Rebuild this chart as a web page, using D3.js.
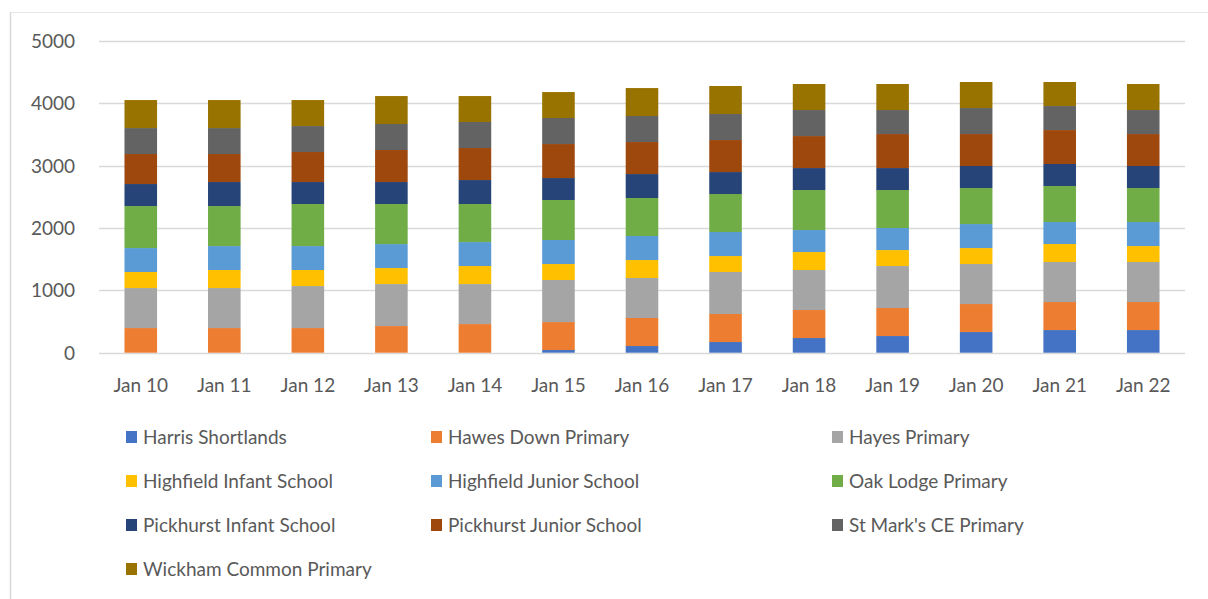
<!DOCTYPE html>
<html>
<head>
<meta charset="utf-8">
<script src="https://cdn.jsdelivr.net/npm/d3@7"></script>
<style>
  html, body { margin: 0; padding: 0; background: #fff; }
  svg { display: block; }
  text { font-family: Lato, "Open Sans", sans-serif; fill: #595959; }
</style>
</head>
<body>
<svg id="chart" width="1208" height="599"></svg>
<script>
const categories = ["Jan 10","Jan 11","Jan 12","Jan 13","Jan 14","Jan 15","Jan 16","Jan 17","Jan 18","Jan 19","Jan 20","Jan 21","Jan 22"];
const seriesNames = ["Harris Shortlands","Hawes Down Primary","Hayes Primary","Highfield Infant School","Highfield Junior School","Oak Lodge Primary","Pickhurst Infant School","Pickhurst Junior School","St Mark's CE Primary","Wickham Common Primary"];
const harrisShortlands   = [0, 0, 0, 0, 0, 43, 107, 171, 235, 267, 331, 363, 363];
const hawesDownPrimary   = [395, 395, 395, 427, 459, 448, 449, 449, 449, 449, 449, 449, 449];
const hayesPrimary       = [641, 641, 673, 673, 641, 674, 641, 673, 641, 673, 641, 641, 641];
const highfieldInfant    = [257, 289, 257, 257, 289, 256, 288, 256, 288, 256, 256, 289, 256];
const highfieldJunior    = [384, 384, 384, 384, 384, 385, 385, 385, 353, 353, 385, 352, 385];
const oakLodgePrimary    = [673, 641, 674, 642, 610, 641, 609, 609, 641, 609, 577, 577, 545];
const pickhurstInfant    = [353, 385, 352, 352, 384, 352, 384, 352, 352, 352, 353, 353, 353];
const pickhurstJunior    = [481, 449, 481, 513, 513, 545, 513, 513, 513, 545, 512, 544, 512];
const stMarksCE          = [416, 416, 416, 417, 417, 417, 417, 417, 417, 385, 417, 385, 385];
const wickhamCommon      = [449, 449, 417, 448, 416, 416, 448, 449, 417, 417, 417, 385, 417];
const yTicks = [0, 1000, 2000, 3000, 4000, 5000];
const colors = ["#4472c4","#ed7d31","#a5a5a5","#ffc000","#5b9bd5","#70ad47","#264478","#9e480e","#636363","#997300"];

const seriesValues = [harrisShortlands, hawesDownPrimary, hayesPrimary, highfieldInfant, highfieldJunior, oakLodgePrimary, pickhurstInfant, pickhurstJunior, stMarksCE, wickhamCommon];
const rows = categories.map((c, i) => {
  const r = { cat: c };
  seriesNames.forEach((s, j) => { r[s] = seriesValues[j][i]; });
  return r;
});

const FS = 19;
const svg = d3.select("#chart");

// outer chart border
svg.append("line").attr("x1", 10).attr("x2", 1208).attr("y1", 12.5).attr("y2", 12.5)
  .attr("stroke", "#e6e6e6").attr("stroke-width", 1);
svg.append("line").attr("x1", 10.5).attr("x2", 10.5).attr("y1", 12).attr("y2", 599)
  .attr("stroke", "#d9d9d9").attr("stroke-width", 1.5);

const x = d3.scaleBand().domain(categories).range([99, 1185]).paddingInner(0.61).paddingOuter(0.305);
const y = d3.scaleLinear().domain([0, 5000]).range([352.7, 40.7]);

// gridlines
svg.append("g").selectAll("line").data(yTicks).join("line")
  .attr("x1", 99).attr("x2", 1185)
  .attr("y1", d => Math.round(y(d)) + 0.5).attr("y2", d => Math.round(y(d)) + 0.5)
  .attr("stroke", "#d9d9d9").attr("stroke-width", 1.3);

const stack = d3.stack().keys(seriesNames);
const stacked = stack(rows);

svg.append("g").selectAll("g").data(stacked).join("g")
  .attr("fill", (d, i) => colors[i])
  .selectAll("rect").data(d => d).join("rect")
  .attr("x", d => x(d.data.cat))
  .attr("width", x.bandwidth())
  .attr("y", d => y(d[1]))
  .attr("height", d => Math.max(0, y(d[0]) - y(d[1])));

// y axis labels
const yAxis = d3.axisLeft(y).tickValues(yTicks).tickFormat(d3.format("d")).tickSize(0).tickPadding(0);
const yg = svg.append("g").attr("transform", "translate(75,0)").call(yAxis);
yg.select(".domain").remove();
yg.selectAll("text").attr("font-size", FS).style("font-family", "Lato, sans-serif").attr("fill", "#595959").attr("dy", "0.35em");

// x axis labels
const xAxis = d3.axisBottom(x).tickSize(0).tickPadding(0);
const xg = svg.append("g").attr("transform", "translate(0,385)").call(xAxis);
xg.select(".domain").remove();
xg.selectAll("text").attr("font-size", FS).style("font-family", "Lato, sans-serif").attr("fill", "#595959").attr("dy", "0.35em");

// legend
const colX = [126, 431, 832];
const rowY = [437, 481, 525, 569];
const leg = svg.append("g").selectAll("g").data(seriesNames).join("g")
  .attr("transform", (d, i) => `translate(${colX[i % 3]},${rowY[Math.floor(i / 3)]})`);
leg.append("rect").attr("x", 0).attr("y", -6).attr("width", 11).attr("height", 12).attr("fill", (d, i) => colors[i]);
leg.append("text").attr("x", 17).attr("y", 0).attr("dy", "0.35em").attr("font-size", FS).text(d => d);
</script>
</body>
</html>
